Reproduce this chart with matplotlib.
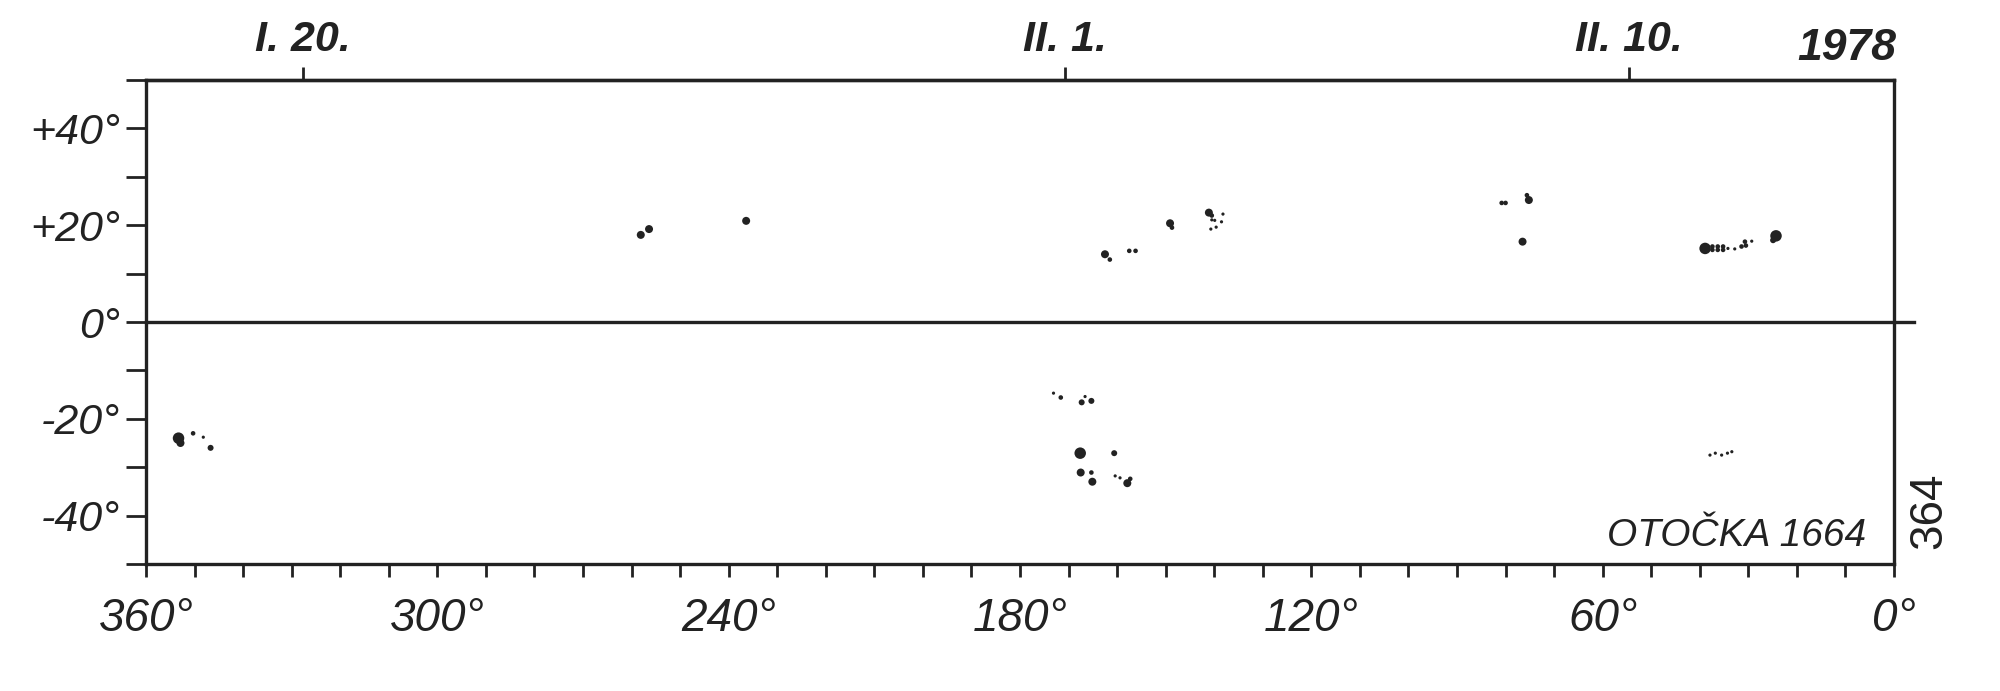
import matplotlib
matplotlib.use("Agg")
import matplotlib.pyplot as plt
import numpy as np

# ---------------- data ----------------
# Carrington longitude (deg), heliographic latitude (deg), spot size class (1 tiny .. 5 large)
north_lon = [258.1, 256.4, 236.4,
             162.5, 161.5, 157.5, 156.2,
             149.1, 148.7,
             141.1, 140.5, 138.2, 140.5, 139.9, 138.5, 140.7, 139.6,
             80.8, 80.0, 75.2, 75.6, 76.5,
             38.9, 37.4, 36.3, 35.2, 37.4, 36.3, 35.2, 34.2, 32.8,
             31.4, 30.5, 30.7, 29.3, 24.3, 24.9]
north_lat = [18.0, 19.2, 20.9,
             14.0, 12.9, 14.7, 14.7,
             20.4, 19.5,
             22.6, 22.0, 22.3, 21.1, 21.0, 20.7, 19.2, 19.6,
             24.6, 24.6, 25.2, 26.2, 16.6,
             15.2, 15.6, 15.6, 15.6, 14.9, 14.9, 14.9, 15.2, 15.1,
             15.6, 15.8, 16.6, 16.7, 17.8, 16.9]
north_size = [4, 4, 4,
              4, 2, 2, 2,
              4, 2,
              4, 2, 1, 1, 1, 1, 1, 1,
              2, 2, 4, 2, 4,
              5, 2, 2, 2, 2, 2, 2, 1, 1,
              2, 2, 2, 1, 5, 3]

south_lon = [353.3, 352.9, 350.3, 348.2, 346.7,
             173.1, 171.6, 166.6, 167.3, 165.3,
             167.6, 160.6, 167.5, 165.3, 165.1, 160.4, 159.4, 157.9, 157.3,
             37.9, 36.8, 35.5, 34.3, 33.4]
south_lat = [-24.0, -25.0, -23.0, -23.8, -26.0,
             -14.7, -15.6, -15.4, -16.6, -16.3,
             -27.1, -27.1, -31.1, -31.1, -33.0, -31.8, -32.2, -33.3, -32.4,
             -27.5, -27.1, -27.5, -27.1, -26.8]
south_size = [5, 4, 2, 1, 3,
              1, 2, 1, 3, 3,
              5, 3, 4, 2, 4, 1, 1, 4, 2,
              1, 1, 1, 1, 1]

x_major = [360, 300, 240, 180, 120, 60, 0]
x_labels = ["360°", "300°", "240°", "180°", "120°", "60°", "0°"]
y_major = [40, 20, 0, -20, -40]
y_labels = ["+40°", "+20°", "0°", "-20°", "-40°"]
date_lon = [327.7, 170.7, 54.6]
date_labels = ["I. 20.", "II. 1.", "II. 10."]
year_label = "1978"
rotation_label = "OTOČKA 1664"
page_label = "364"

# ---------------- style ----------------
INK = "#222222"
FONT = ["Liberation Sans", "DejaVu Sans"]
plt.rcParams["font.family"] = FONT

fig = plt.figure(figsize=(20, 6.91), dpi=100)
fig.patch.set_facecolor("white")
ax = fig.add_axes([0.073, 0.18379, 0.874, 0.70043])
ax.set_xlim(360, 0)
ax.set_ylim(-50, 50)

LW = 2.4
for s in ax.spines.values():
    s.set_linewidth(LW)
    s.set_color(INK)

size_px = {1: 3.2, 2: 4.6, 3: 6.0, 4: 8.0, 5: 11.5}
def to_s(classes):
    return [(size_px[c] * 0.72) ** 2 for c in classes]

ax.scatter(north_lon, north_lat, s=to_s(north_size), c=INK, linewidths=0, zorder=3)
ax.scatter(south_lon, south_lat, s=to_s(south_size), c=INK, linewidths=0, zorder=3)

ax.axhline(0, xmin=0, xmax=1.0115, color=INK, lw=LW, clip_on=False, zorder=2)

# bottom ticks
ax.set_xticks(x_major)
ax.set_xticklabels(x_labels)
ax.set_xticks(np.arange(0, 361, 10), minor=True)
ax.tick_params(axis="x", which="both", direction="out", length=9.5, width=2.0,
               color=INK, top=False, bottom=True)
ax.tick_params(axis="x", which="major", pad=14, labelsize=33, labelcolor=INK)
for t in ax.get_xticklabels():
    t.set_fontstyle("italic")

# left ticks
ax.set_yticks(y_major)
ax.set_yticklabels(y_labels)
ax.set_yticks(np.arange(-50, 51, 10), minor=True)
ax.tick_params(axis="y", which="both", direction="out", length=14.5, width=2.0,
               color=INK, right=False, left=True)
ax.tick_params(axis="y", which="major", pad=4, labelsize=31, labelcolor=INK)
for t in ax.get_yticklabels():
    t.set_fontstyle("italic")

# top date ticks
sec = ax.secondary_xaxis("top")
sec.set_xticks(date_lon)
sec.set_xticklabels(date_labels)
sec.tick_params(axis="x", direction="out", length=9.5, width=2.0, color=INK,
                pad=5, labelsize=31, labelcolor=INK)
sec.spines["top"].set_linewidth(LW)
sec.spines["top"].set_color(INK)
for t in sec.get_xticklabels():
    t.set_fontstyle("italic")
    t.set_fontweight("bold")

fig.text(1896 / 2000, 1 - 60 / 691, year_label, ha="right", va="baseline",
         fontsize=32, fontstyle="italic", fontweight="bold", color=INK)
fig.text(1866 / 2000, 1 - 546 / 691, rotation_label, ha="right", va="baseline",
         fontsize=28, fontstyle="italic", color=INK)
fig.text(1929 / 2000, 1 - 549 / 691, page_label, ha="center", va="bottom",
         rotation=90, fontsize=33, color=INK)

fig.savefig("out.png", dpi=100, facecolor="white")
